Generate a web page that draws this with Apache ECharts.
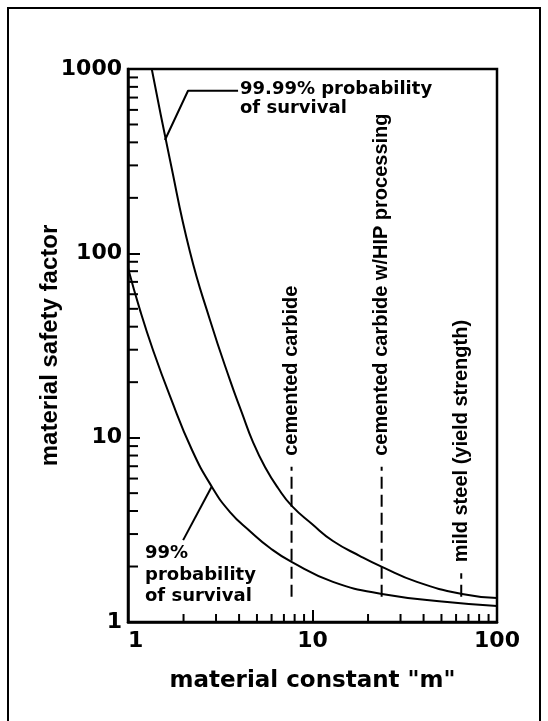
<!DOCTYPE html>
<html>
<head>
<meta charset="utf-8">
<script src="https://cdn.jsdelivr.net/npm/echarts@6/dist/echarts.min.js"></script>
<style>
  html, body { margin: 0; padding: 0; background: #fff; }
  #chart { width: 548px; height: 721px; }
</style>
</head>
<body>
<div id="chart"></div>
<script>
// 99.99% survival curve (m, safety factor)
const mUpper = [1.345, 1.689, 2.168, 2.782, 3.571, 4.149, 4.758, 5.527, 6.501, 7.743, 9.94, 12.91, 18.09, 23.8, 36.8, 64.6, 100];
const sfUpper = [1000, 321, 101.6, 43.5, 20.5, 13.6, 9.46, 6.93, 5.33, 4.25, 3.40, 2.75, 2.28, 1.99, 1.65, 1.42, 1.35];
// 99% survival curve
const mLower = [1, 1.162, 1.366, 1.689, 2.223, 2.853, 3.571, 4.584, 5.884, 7.743, 12.91, 23.8, 55.6, 100];
const sfLower = [83.2, 49.2, 29.9, 16.8, 8.57, 5.40, 3.95, 3.11, 2.52, 2.11, 1.65, 1.42, 1.28, 1.22];

// material markers (dashed verticals)
const markerNames = ['cemented carbide', 'cemented carbide w/HIP processing', 'mild steel (yield strength)'];
const markerM = [7.7, 23.7, 64];
const markerTop = [6.95, 6.95, 1.84];
const markerBottom = [1.37, 1.37, 1.37];

// leader lines for the curve labels
const upperPointer = [[1.586, 412], [2.115, 762], [3.95, 762]];
const lowerPointer = [[2.84, 5.42], [1.99, 2.78]];

// minor ticks on the log axes
const xMinor = [2, 3, 4, 5, 6, 7, 8, 9, 20, 30, 40, 50, 60, 70, 80, 90];
const yMinor = [2, 3, 4, 5, 6, 7, 8, 9, 20, 30, 40, 50, 60, 70, 80, 90, 200, 300, 400, 500, 600, 700, 800, 900];

const chart = echarts.init(document.getElementById('chart'));

const labelFont = { fontFamily: 'DejaVu Sans', fontWeight: 'bold', color: '#000' };

const option = {
  backgroundColor: '#fff',
  animation: false,
  grid: {
    left: 128, top: 69, right: 51, bottom: 99,
    show: true, borderColor: '#000', borderWidth: 2.5
  },
  xAxis: {
    type: 'log', logBase: 10, min: 1, max: 100,
    name: 'material constant "m"',
    nameLocation: 'middle', nameGap: 48, nameMoveOverlap: false,
    nameTextStyle: { fontFamily: 'DejaVu Sans', fontWeight: 'bold', fontSize: 23, color: '#000' },
    axisLine: { lineStyle: { color: '#000', width: 2.5 } },
    axisTick: { inside: true, length: 12, lineStyle: { color: '#000', width: 2 } },
    axisLabel: Object.assign({ fontSize: 22, margin: 8, alignMinLabel: 'left', formatter: v => String(v) }, labelFont),
    splitLine: { show: false }
  },
  yAxis: {
    type: 'log', logBase: 10, min: 1, max: 1000,
    name: 'material safety factor',
    nameLocation: 'middle', nameGap: 66, nameRotate: 90, nameMoveOverlap: false,
    nameTextStyle: { fontFamily: 'Liberation Sans', fontWeight: 'bold', fontSize: 24, color: '#000' },
    axisLine: { lineStyle: { color: '#000', width: 2.5 } },
    axisTick: { inside: true, length: 12, lineStyle: { color: '#000', width: 2 } },
    axisLabel: Object.assign({ fontSize: 22, margin: 6, formatter: v => String(v) }, labelFont),
    splitLine: { show: false }
  },
  graphic: [
    {
      type: 'rect', silent: true,
      shape: { x: 8, y: 8, width: 532, height: 740 },
      style: { fill: 'none', stroke: '#000', lineWidth: 2 }
    },
    {
      type: 'text', left: 240, top: 80,
      style: { text: '99.99% probability\nof survival', fontFamily: 'DejaVu Sans', fontWeight: 'bold', fontSize: 18, lineHeight: 19, fill: '#000' }
    },
    {
      type: 'text', left: 145, top: 543,
      style: { text: '99%\nprobability\nof survival', fontFamily: 'DejaVu Sans', fontWeight: 'bold', fontSize: 18, lineHeight: 21.5, fill: '#000' }
    }
  ],
  series: [
    {
      name: '99.99%', type: 'line', smooth: 0.5, showSymbol: false,
      lineStyle: { color: '#000', width: 2 },
      data: mUpper.map((m, i) => [m, sfUpper[i]])
    },
    {
      name: '99%', type: 'line', smooth: 0.5, showSymbol: false,
      lineStyle: { color: '#000', width: 2 },
      data: mLower.map((m, i) => [m, sfLower[i]])
    },
    {
      type: 'line', showSymbol: false, lineStyle: { color: '#000', width: 2 },
      data: upperPointer
    },
    {
      type: 'line', showSymbol: false, lineStyle: { color: '#000', width: 2 },
      data: lowerPointer
    },
    {
      // material marker lines and their rotated labels
      type: 'custom',
      data: markerM.map((m, i) => [m, markerTop[i], markerBottom[i]]),
      encode: { x: 0, y: [1, 2] },
      renderItem: function (params, api) {
        const top = api.coord([api.value(0), api.value(1)]);
        const bot = api.coord([api.value(0), api.value(2)]);
        return {
          type: 'group',
          children: [
            {
              type: 'line',
              shape: { x1: bot[0], y1: bot[1], x2: top[0], y2: top[1] },
              style: { stroke: '#000', lineWidth: 2, lineDash: [12, 6] }
            },
            {
              type: 'text',
              x: top[0], y: top[1] - 11,
              rotation: Math.PI / 2,
              style: {
                text: markerNames[params.dataIndex],
                align: 'left', verticalAlign: 'middle',
                fontFamily: 'Liberation Sans', fontWeight: 'bold', fontSize: 20, fill: '#000'
              }
            }
          ]
        };
      }
    },
    {
      // x minor ticks
      type: 'custom',
      data: xMinor.map(v => [v, 1]),
      renderItem: function (params, api) {
        const p = api.coord([api.value(0), 1]);
        return {
          type: 'line',
          shape: { x1: p[0], y1: p[1], x2: p[0], y2: p[1] - 8 },
          style: { stroke: '#000', lineWidth: 2 }
        };
      }
    },
    {
      // y minor ticks
      type: 'custom',
      data: yMinor.map(v => [1, v]),
      renderItem: function (params, api) {
        const p = api.coord([1, api.value(1)]);
        return {
          type: 'line',
          shape: { x1: p[0], y1: p[1], x2: p[0] + 10, y2: p[1] },
          style: { stroke: '#000', lineWidth: 2 }
        };
      }
    }
  ]
};

chart.setOption(option);
</script>
</body>
</html>
